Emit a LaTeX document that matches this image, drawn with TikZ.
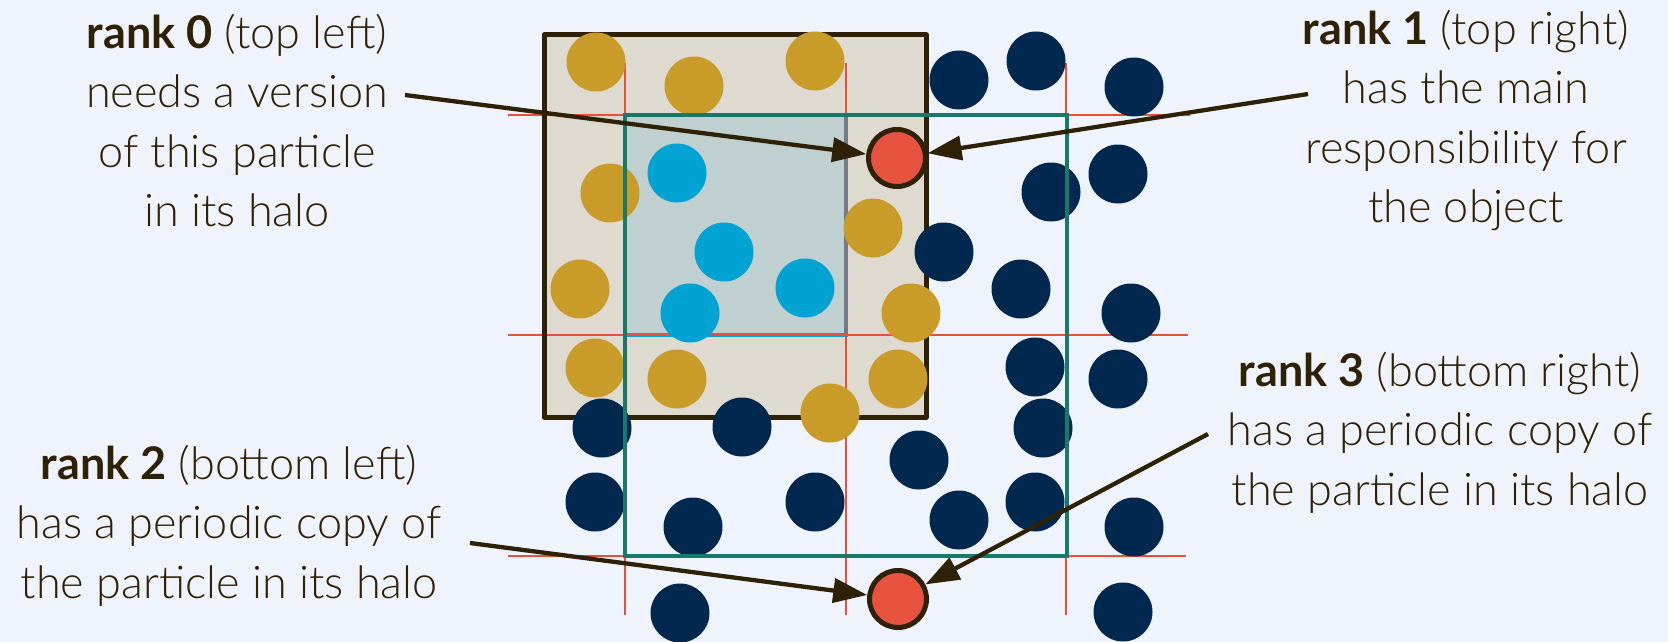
\documentclass[tikz,border=0pt]{standalone}
\usepackage{fontspec}
\setmainfont{Lato}[UprightFont=* Light, BoldFont=* Bold]
\usetikzlibrary{arrows.meta}
\definecolor{bg}{HTML}{EFF4FC}
\definecolor{ink}{HTML}{2E2106}
\definecolor{gold}{HTML}{C99C2A}
\definecolor{navy}{HTML}{00284F}
\definecolor{cyanp}{HTML}{00A3D1}
\definecolor{redp}{HTML}{E8533F}
\definecolor{gridred}{HTML}{E8503A}
\definecolor{halogreen}{HTML}{17796A}
\definecolor{halofill}{HTML}{DEDAD0}
\definecolor{domfill}{HTML}{C0CFCF}
\begin{document}
\begin{tikzpicture}[x=1pt,y=-1pt,
  part/.style={circle,minimum size=59pt,inner sep=0pt,outer sep=0pt},
  gp/.style={part,fill=gold},
  np/.style={part,fill=navy},
  cp/.style={part,fill=cyanp},
  rp/.style={circle,minimum size=57pt,inner sep=0pt,fill=redp,draw=ink,line width=5pt},
  lbl/.style={align=center,text=ink,font=\fontsize{45}{59.3}\selectfont,inner sep=0pt,anchor=north},
  ptr/.style={draw=ink,line width=4.3pt,-{Triangle[length=34pt,width=24pt]}},
  gridline/.style={draw=gridred,line width=1.5pt},
  halobox/.style={draw=ink,line width=5pt,line join=round},
  greenbox/.style={draw=halogreen,line width=4.5pt},
  ownbox/.style={fill=domfill,draw=cyanp,line width=3.5pt}]
\fill[bg] (0,0) rectangle (1668,642);
\useasboundingbox (0,0) rectangle (1668,642);
% halo of rank 0
\fill[halofill] (544,35) rectangle (926,417);
\path[ownbox] (625,115) rectangle (846,335);
% grid
\draw[gridline] (625,63) -- (625,615);
\draw[gridline] (846,63) -- (846,615);
\draw[gridline] (1066,63) -- (1066,615);
\draw[gridline] (508,115) -- (1190,115);
\draw[gridline] (508,335) -- (1188,335);
\draw[gridline] (508,556) -- (1186,556);
\draw[halobox] (544,35) rectangle (926,417);
% gold particles
\node[gp] (g1) at (596,62) {};
\node[gp] (g2) at (694,86) {};
\node[gp] (g3) at (815,61) {};
\node[gp] (g4) at (610,193) {};
\node[gp] (g5) at (873,228) {};
\node[gp] (g6) at (580,289) {};
\node[gp] (g7) at (911,313) {};
\node[gp] (g8) at (595,368) {};
\node[gp] (g9) at (677,379) {};
\node[gp] (g10) at (830,413) {};
\node[gp] (g11) at (898,379) {};
% cyan particles
\node[cp] (c1) at (677,173) {};
\node[cp] (c2) at (724,252) {};
\node[cp] (c3) at (805,288) {};
\node[cp] (c4) at (690,313) {};
% navy particles
\node[np] (n1) at (959,80) {};
\node[np] (n2) at (1036,61) {};
\node[np] (n3) at (1134,87) {};
\node[np] (n4) at (1118,174) {};
\node[np] (n5) at (1051,192) {};
\node[np] (n6) at (944,252) {};
\node[np] (n7) at (1021,289) {};
\node[np] (n8) at (1131,313) {};
\node[np] (n9) at (1035,367) {};
\node[np] (n10) at (1118,379) {};
\node[np] (n11) at (1043,428) {};
\node[np] (n12) at (602,428) {};
\node[np] (n13) at (742,427) {};
\node[np] (n14) at (919,460) {};
\node[np] (n15) at (595,502) {};
\node[np] (n16) at (693,527) {};
\node[np] (n17) at (815,502) {};
\node[np] (n18) at (959,520) {};
\node[np] (n19) at (1035,502) {};
\node[np] (n20) at (1134,527) {};
\node[np] (n21) at (680,613) {};
\node[np] (n22) at (1123,612) {};
% green box
\draw[greenbox] (625,115) rectangle (1067,556);
% the particle and its periodic copy
\node[rp] (p1) at (897,158) {};
\node[rp] (p2) at (898,599) {};
% labels
\node[lbl] (t0) at (237,14) {\textbf{rank 0} (top left)\\needs a version\\of this particle\\in its halo};
\node[lbl] (t1) at (1466,10) {\textbf{rank 1} (top right)\\has the main\\responsibility for\\the object};
\node[lbl] (t2) at (229,445) {\textbf{rank 2} (bottom left)\\has a periodic copy of\\the particle in its halo};
\node[lbl] (t3) at (1440,352) {\textbf{rank 3} (bottom right)\\has a periodic copy of\\the particle in its halo};
% arrows
\coordinate (s0) at (405,95);
\coordinate (s1) at (1308,94);
\coordinate (s2) at (470,543);
\coordinate (s3) at (1208,434);
\draw[ptr] (s0) -- (p1);
\draw[ptr] (s1) -- (p1);
\draw[ptr] (s2) -- (p2);
\draw[ptr] (s3) -- (p2);
\end{tikzpicture}
\end{document}
